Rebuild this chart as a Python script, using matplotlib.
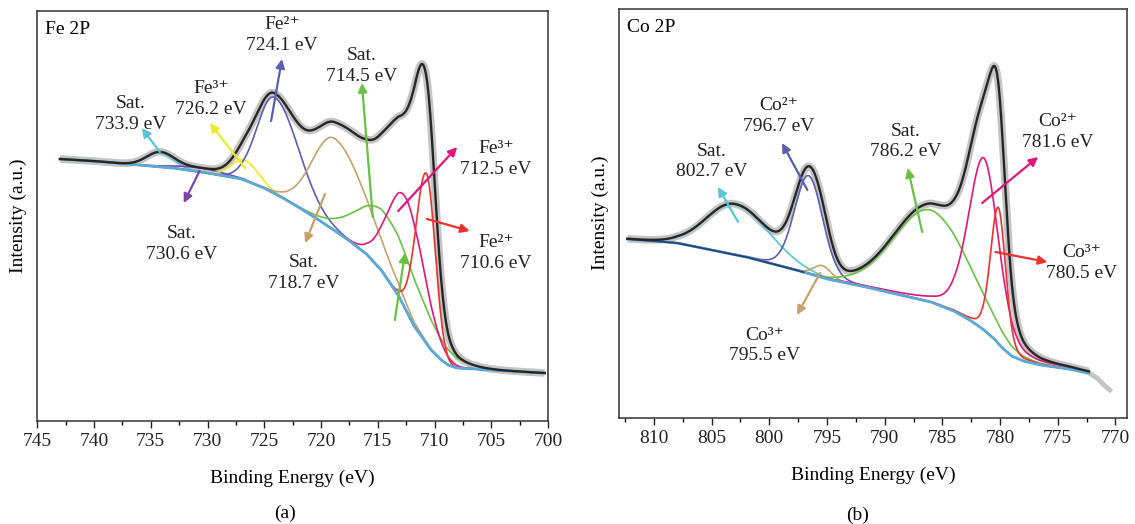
import numpy as np
import matplotlib
matplotlib.use("Agg")
import matplotlib.pyplot as plt

plt.rcParams['font.family'] = ['Liberation Serif', 'DejaVu Serif']
plt.rcParams['font.size'] = 14

# ---- Fe 2p : background (Shirley) ----
fe_bg_E = [743.0, 740.0, 736.0, 733.0, 730.0, 727.0, 725.0, 723.5, 722.0, 720.6, 719.0,
           717.6, 716.0, 714.7, 713.2, 711.8, 710.3, 709.5, 708.8, 708.0, 705.0, 700.3]
fe_bg_I = [277, 275, 271, 268, 263, 257, 248, 239, 229, 219, 207,
           196, 182, 166, 141, 110, 86, 77, 71, 68, 66, 63]

# fitted components: centre, height, half width (high BE side), half width (low BE side), lorentz part
fe_names = ['Sat. 733.9', 'Sat. 730.6', 'Fe3+ 726.2', 'Fe2+ 724.1', 'Sat. 718.7',
            'Sat. 714.5', 'Fe3+ 712.5', 'Fe2+ 710.6']
fe_center = [734.2, 730.6, 726.7, 724.1, 718.8, 714.2, 712.5, 710.7]
fe_height = [14, 4, 20, 96, 92, 62, 112, 170]
fe_hw_hi = [1.4, 2.5, 1.4, 1.8, 2.3, 3.0, 1.9, 1.1]
fe_hw_lo = [1.4, 2.5, 1.4, 2.5, 3.3, 3.8, 1.9, 0.9]
fe_eta = [0, 0, 0, 0, 0, 0, 0, 0]

# ---- Co 2p ----
co_bg_E = [812.3, 810.0, 808.0, 805.0, 802.0, 800.0, 798.0, 795.0, 792.0, 789.0, 786.0,
           784.0, 782.5, 781.5, 780.5, 779.8, 779.0, 778.0, 776.5, 774.0, 772.3]
co_bg_I = [195, 193, 191, 184, 177, 171, 165, 155, 148, 140, 132,
           123, 113, 105, 95, 86, 78, 73, 69, 65, 61]
co_raw_tail_E = [772.3, 771.6, 771.0, 770.5]
co_raw_tail_I = [61, 56, 49, 44]

co_names = ['Sat. 802.7', 'Co2+ 796.7', 'Co3+ 795.5', 'Sat. 786.2', 'Co2+ 781.6', 'Co3+ 780.5']
co_center = [803.0, 796.6, 795.4, 786.0, 781.4, 780.15]
co_height = [50, 98, 12, 92, 172, 136]
co_hw_hi = [2.9, 1.45, 0.9, 3.8, 1.6, 0.8]
co_hw_lo = [3.5, 1.45, 0.9, 3.9, 1.5, 0.75]
co_eta = [0, 0.1, 0, 0, 0.3, 0.2]

fe_colors = ['#56c5d8', '#7e44a8', '#eaea2a', '#5b5fb0', '#c4a26a', '#6abf45', '#e0157c', '#e8332e']
co_colors = ['#56c5d8', '#5b5fb0', '#c4a26a', '#6abf45', '#e0157c', '#e8332e']
bg_color = '#5aa9d6'
env_color = '#262626'
raw_color = '#c4c4c4'


def peak(E, c, h, whi, wlo, eta):
    w = np.where(E > c, whi, wlo)
    x = (E - c) / w
    g = np.exp(-np.log(2) * x ** 2)
    l = 1.0 / (1.0 + x ** 2)
    return h * ((1 - eta) * g + eta * l)


def draw_panel(ax, bgE, bgI, center, height, whi, wlo, eta, colors):
    E = np.linspace(bgE[0], bgE[-1], 900)
    bg = np.interp(E, bgE[::-1], bgI[::-1])
    comps = [peak(E, c, h, a, b, t) for c, h, a, b, t in zip(center, height, whi, wlo, eta)]
    env = bg + np.sum(comps, axis=0)
    ax.plot(E, env, color=raw_color, lw=5.5, solid_capstyle='butt', zorder=1)
    for comp, col in zip(comps, colors):
        ax.plot(E, bg + comp, color=col, lw=1.2, zorder=3)
    ax.plot(E, bg, color=bg_color, lw=2.0, zorder=4)
    ax.plot(E, env, color=env_color, lw=1.7, zorder=5)
    return E, bg


def style_axis(ax, xlim, ylim, majors, minors):
    ax.set_xlim(*xlim)
    ax.set_ylim(*ylim)
    ax.set_xticks(majors)
    ax.set_xticks(minors, minor=True)
    ax.set_yticks([])
    ax.tick_params(axis='x', which='major', direction='out', length=5, width=1.0, pad=4,
                   labelsize=14, colors='#222222')
    ax.tick_params(axis='x', which='minor', direction='out', length=3, width=1.0)
    for s in ax.spines.values():
        s.set_color('#333333')
        s.set_linewidth(1.1)


def arrow(ax, tail, head, col):
    ax.annotate('', xy=head, xytext=tail,
                arrowprops=dict(arrowstyle='-|>', color=col, lw=1.6, mutation_scale=13,
                                shrinkA=0, shrinkB=0), zorder=6)


W, H = 1135, 524
fig = plt.figure(figsize=(W / 100, H / 100), dpi=100)

axa = fig.add_axes([37.3 / W, 1 - 420.7 / H, (548 - 37.3) / W, (420.7 - 11) / H])
axb = fig.add_axes([619.3 / W, 1 - 417.7 / H, (1127 - 619.3) / W, (417.7 - 9) / H])

draw_panel(axa, fe_bg_E, fe_bg_I, fe_center, fe_height, fe_hw_hi, fe_hw_lo, fe_eta, fe_colors)
Eb, bgb = draw_panel(axb, co_bg_E, co_bg_I, co_center, co_height, co_hw_hi, co_hw_lo, co_eta, co_colors)
axb.plot(co_raw_tail_E, co_raw_tail_I, color=raw_color, lw=3.5, zorder=1)
m = Eb >= 797
axb.plot(Eb[m], bgb[m], color='#26417a', lw=1.3, zorder=4.5)

style_axis(axa, (745, 700), (15.3, 425), np.arange(745, 699, -5), np.arange(742.5, 700, -5))
style_axis(axb, (813, 769), (16.3, 425), np.arange(810, 769, -5), np.arange(812.5, 769, -5))

axa.text(0.015, 0.954, 'Fe 2P', transform=axa.transAxes, ha='left', va='center', fontsize=14)
axb.text(0.015, 0.954, 'Co 2P', transform=axb.transAxes, ha='left', va='center', fontsize=14)

# labels and arrows, Fe 2p
fe_labels = [
    ('Fe²⁺\n724.1 eV', (723.45, 401), (724.4, 315), (723.44, 377), fe_colors[3]),
    ('Sat.\n714.5 eV', (716.4, 370), (715.44, 219), (716.4, 353), fe_colors[5]),
    ('Fe³⁺\n726.2 eV', (729.7, 337), (726.7, 268), (729.8, 313), fe_colors[2]),
    ('Sat.\n733.9 eV', (736.8, 322), (734.2, 284), (735.8, 308), fe_colors[0]),
    ('Fe³⁺\n712.5 eV', (704.6, 277), (713.2, 225), (708.0, 289), fe_colors[6]),
    ('Fe²⁺\n710.6 eV', (704.6, 183), (710.66, 217), (706.9, 205), fe_colors[7]),
    ('Sat.\n730.6 eV', (732.25, 192), (730.7, 265), (732.1, 233), fe_colors[1]),
    ('Sat.\n718.7 eV', (721.5, 163), (719.65, 242), (721.4, 193), fe_colors[4]),
]
for txt, pos, tail, head, col in fe_labels:
    axa.text(pos[0], pos[1], txt, ha='center', va='center', linespacing=1.3, fontsize=14,
             color='#222222', zorder=7)
    arrow(axa, tail, head, col)
arrow(axa, (713.5, 116), (712.6, 183), fe_colors[5])

co_labels = [
    ('Co²⁺\n796.7 eV', (799.2, 318), (796.7, 244), (798.9, 291), co_colors[1]),
    ('Sat.\n802.7 eV', (805.0, 272.5), (802.7, 212), (804.45, 247), co_colors[0]),
    ('Sat.\n786.2 eV', (788.2, 292.5), (786.75, 202), (788.0, 266), co_colors[3]),
    ('Co²⁺\n781.6 eV', (775.0, 302), (781.55, 231), (776.7, 277), co_colors[4]),
    ('Co³⁺\n780.5 eV', (772.9, 171), (780.4, 182), (775.9, 172), co_colors[5]),
    ('Co³⁺\n795.5 eV', (800.4, 88.5), (795.6, 161), (797.6, 119), co_colors[2]),
]
for txt, pos, tail, head, col in co_labels:
    axb.text(pos[0], pos[1], txt, ha='center', va='center', linespacing=1.3, fontsize=14,
             color='#222222', zorder=7)
    arrow(axb, tail, head, col)

fig.text(18 / W, 1 - 216 / H, 'Intensity (a.u.)', rotation=90, ha='center', va='center', fontsize=14)
fig.text(600 / W, 1 - 213 / H, 'Intensity (a.u.)', rotation=90, ha='center', va='center', fontsize=14)
fig.text(292.6 / W, 1 - 478 / H, 'Binding Energy (eV)', ha='center', va='center', fontsize=14)
fig.text(873 / W, 1 - 475 / H, 'Binding Energy (eV)', ha='center', va='center', fontsize=14)
fig.text(285 / W, 1 - 513 / H, '(a)', ha='center', va='center', fontsize=14)
fig.text(858 / W, 1 - 515 / H, '(b)', ha='center', va='center', fontsize=14)

fig.savefig('out.png', dpi=100)
